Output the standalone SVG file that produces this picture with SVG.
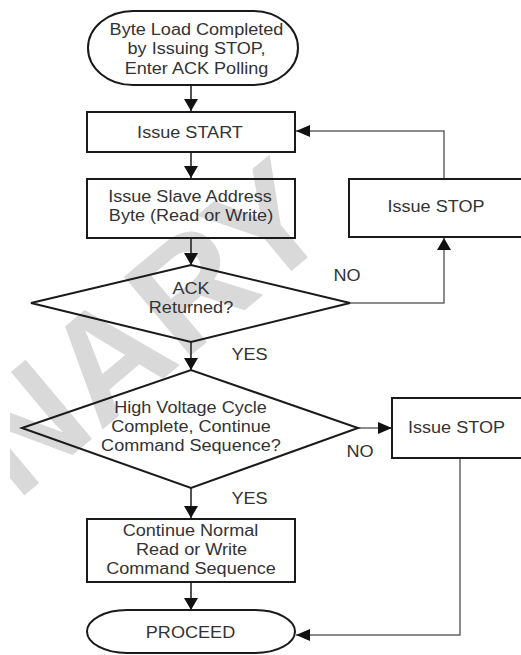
<svg xmlns="http://www.w3.org/2000/svg" width="521" height="655" viewBox="0 0 521 655">
<style>
.t{font-family:"Liberation Sans",Arial,sans-serif;font-size:16px;fill:#333;text-anchor:middle}
.box{fill:none;stroke:#1a1a1a;stroke-width:2}
.c{fill:none;stroke:#1a1a1a;stroke-width:1.5}
.cg{fill:none;stroke:#666;stroke-width:1.5}
.wm{font-family:"Liberation Sans",Arial,sans-serif;font-weight:bold;font-size:150px;fill:#d9d9d9;text-anchor:end}
</style>
<defs>
<marker id="av" markerUnits="userSpaceOnUse" markerWidth="12" markerHeight="14" refX="12" refY="7" orient="auto">
<path d="M0,0 L12,7 L0,14 z" fill="#111"/>
</marker>
<marker id="ah" markerUnits="userSpaceOnUse" markerWidth="14" markerHeight="12" refX="14" refY="6" orient="auto">
<path d="M0,0 L14,6 L0,12 z" fill="#111"/>
</marker>
<clipPath id="clip"><rect x="10" y="0" width="511" height="655"/></clipPath>
</defs>
<rect width="521" height="655" fill="#fff"/>
<g id="watermark" clip-path="url(#clip)">
<text class="wm" transform="translate(338,232) rotate(-40)">PRELIMINARY</text>
</g>
<g id="connectors">
<path class="c" d="M191,85 V111" marker-end="url(#av)"/>
<path class="c" d="M191,152 V178" marker-end="url(#av)"/>
<path class="c" d="M191,238 V265" marker-end="url(#av)"/>
<path class="c" d="M191,342 V370" marker-end="url(#av)"/>
<path class="c" d="M191,488 V518" marker-end="url(#av)"/>
<path class="c" d="M191,582 V610" marker-end="url(#av)"/>
<path class="cg" d="M350,303 H444 V238" marker-end="url(#av)"/>
<path class="cg" d="M444,179 V131 H296" marker-end="url(#ah)"/>
<path class="cg" d="M358,428 H392" marker-end="url(#ah)"/>
<path class="cg" d="M460,458 V635 H296" marker-end="url(#ah)"/>
</g>
<g id="start">
<rect class="box" x="88" y="11" width="210" height="74" rx="45" ry="37"/>
<text class="t" transform="matrix(1.13 0 0 1 196.5 35)">Byte Load Completed</text>
<text class="t" transform="matrix(1.13 0 0 1 196.5 54)">by Issuing STOP,</text>
<text class="t" transform="matrix(1.13 0 0 1 196.5 74)">Enter ACK Polling</text>
</g>
<g id="issue-start">
<rect class="box" x="87" y="112" width="208" height="40"/>
<text class="t" transform="matrix(1.13 0 0 1 190 138)">Issue START</text>
</g>
<g id="slave-address">
<rect class="box" x="87" y="179" width="208" height="59"/>
<text class="t" transform="matrix(1.13 0 0 1 190 202)">Issue Slave Address</text>
<text class="t" transform="matrix(1.13 0 0 1 191 221)">Byte (Read or Write)</text>
</g>
<g id="ack-returned">
<polygon class="box" points="31,303 191,265 350,303 191,342"/>
<text class="t" transform="matrix(1.13 0 0 1 191 294)">ACK</text>
<text class="t" transform="matrix(1.13 0 0 1 191 313)">Returned?</text>
</g>
<g id="issue-stop-1">
<rect class="box" x="349" y="179" width="174" height="58"/>
<text class="t" transform="matrix(1.13 0 0 1 436 212)">Issue STOP</text>
</g>
<g id="hv-cycle">
<polygon class="box" points="22,428 191,370 358,428 191,488"/>
<text class="t" transform="matrix(1.13 0 0 1 190.5 413)">High Voltage Cycle</text>
<text class="t" transform="matrix(1.13 0 0 1 191 432)">Complete, Continue</text>
<text class="t" transform="matrix(1.13 0 0 1 191 451)">Command Sequence?</text>
</g>
<g id="issue-stop-2">
<rect class="box" x="392" y="398" width="131" height="60"/>
<text class="t" transform="matrix(1.13 0 0 1 456.5 433)">Issue STOP</text>
</g>
<g id="continue">
<rect class="box" x="87" y="519" width="208" height="63"/>
<text class="t" transform="matrix(1.13 0 0 1 190.5 536)">Continue Normal</text>
<text class="t" transform="matrix(1.13 0 0 1 191.5 555)">Read or Write</text>
<text class="t" transform="matrix(1.13 0 0 1 191 574)">Command Sequence</text>
</g>
<g id="proceed">
<rect class="box" x="87" y="610" width="208" height="43" rx="40" ry="21.5"/>
<text class="t" transform="matrix(1.13 0 0 1 190.5 638)">PROCEED</text>
</g>
<g id="labels">
<text class="t" transform="matrix(1.13 0 0 1 347 281)">NO</text>
<text class="t" transform="matrix(1.13 0 0 1 249.5 360)">YES</text>
<text class="t" transform="matrix(1.13 0 0 1 360 457)">NO</text>
<text class="t" transform="matrix(1.13 0 0 1 249.5 504)">YES</text>
</g>
</svg>
